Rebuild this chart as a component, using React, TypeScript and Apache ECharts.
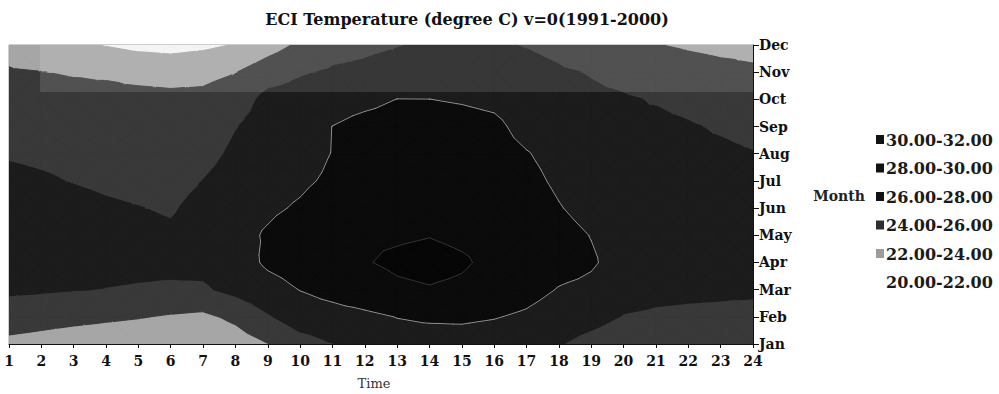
import React, { useEffect, useRef } from "react";
import * as echarts from "echarts";

// ---- axis categories ----
const HOURS = [1, 2, 3, 4, 5, 6, 7, 8, 9, 10, 11, 12, 13, 14, 15, 16, 17, 18, 19, 20, 21, 22, 23, 24];
const MONTHS = ["Jan", "Feb", "Mar", "Apr", "May", "Jun", "Jul", "Aug", "Sep", "Oct", "Nov", "Dec"];

// ---- contour bands ----
const LEVELS = [20, 22, 24, 26, 28, 30, 32];
const BAND_LABELS = ["20.00-22.00", "22.00-24.00", "24.00-26.00", "26.00-28.00", "28.00-30.00", "30.00-32.00"];
const BAND_COLORS = ["#f3f3f3", "#a6a6a6", "#393939", "#1c1c1c", "#0b0b0b", "#060606"];
const SWATCH_COLORS = ["", "#9c9c9c", "#2e2e2e", "#121212", "#121212", "#121212"];

// ---- temperature (degree C) per month, hours 1..24 ----
const tJan = [23.5, 23.3, 23.0, 22.8, 22.6, 22.4, 22.4, 23.0, 23.95, 25.2, 25.95, 26.6, 27.2, 27.2, 27.2, 27.0, 26.6, 26.1, 25.4, 24.8, 24.5, 24.4, 24.3, 24.2];
const tFeb = [25.0, 24.7, 24.5, 24.3, 24.1, 23.8, 23.6, 24.4, 25.8, 27.0, 27.3, 27.6, 28.05, 28.25, 28.3, 28.1, 27.7, 27.0, 26.6, 25.9, 25.7, 25.6, 25.5, 25.3];
const tMar = [26.3, 26.2, 26.05, 25.95, 25.85, 25.75, 25.75, 26.5, 27.3, 28.05, 28.6, 29.2, 29.7, 29.9, 29.7, 29.2, 28.7, 27.9, 27.6, 26.8, 26.5, 26.4, 26.35, 26.35];
const tApr = [26.9, 26.9, 26.8, 26.5, 26.4, 26.4, 26.5, 27.1, 28.3, 28.8, 29.2, 29.9, 30.3, 30.5, 30.2, 29.6, 29.2, 28.7, 28.2, 27.3, 27.0, 26.8, 26.6, 26.5];
const tMay = [27.2, 27.3, 27.0, 26.7, 26.5, 26.3, 26.8, 27.4, 28.2, 28.9, 29.3, 29.8, 29.8, 29.95, 29.7, 29.5, 29.2, 28.6, 27.95, 27.3, 27.1, 26.9, 26.7, 26.6];
const tJun = [27.0, 27.1, 26.7, 26.3, 26.05, 25.8, 26.6, 27.3, 27.7, 28.2, 28.9, 29.4, 29.7, 29.8, 29.5, 29.3, 28.9, 28.1, 27.4, 27.1, 26.9, 26.7, 26.6, 26.5];
const tJul = [26.5, 26.25, 25.9, 25.6, 25.4, 25.3, 26.03, 26.9, 27.3, 27.7, 28.3, 29.0, 29.5, 29.6, 29.3, 29.0, 28.5, 27.7, 27.0, 26.8, 26.7, 26.5, 26.4, 26.3];
const tAug = [25.8, 25.6, 25.4, 25.2, 25.0, 25.0, 25.3, 26.4, 27.2, 27.3, 28.05, 28.7, 29.2, 29.3, 29.0, 28.7, 28.1, 27.4, 26.7, 26.5, 26.4, 26.3, 26.25, 26.05];
const tSep = [25.2, 25.0, 24.9, 24.8, 24.7, 24.6, 24.8, 25.9, 26.9, 27.0, 28.02, 28.5, 28.7, 28.8, 28.65, 28.4, 27.4, 27.0, 26.4, 26.2, 26.3, 26.12, 25.85, 25.6];
const tOct = [24.6, 24.5, 24.4, 24.45, 24.5, 24.4, 24.4, 24.9, 26.6, 26.8, 27.3, 27.6, 28.02, 28.01, 27.85, 27.6, 27.0, 26.6, 26.3, 26.15, 25.9, 25.6, 25.2, 25.0];
const tNov = [24.1, 24.02, 23.9, 23.8, 23.5, 23.4, 23.55, 23.95, 25.0, 25.8, 26.2, 26.4, 26.8, 27.1, 27.0, 26.8, 26.6, 26.2, 25.9, 25.5, 25.0, 24.7, 24.45, 24.2];
const tDec = [23.6, 23.2, 22.4, 21.9, 21.5, 21.3, 21.6, 22.1, 23.2, 24.3, 25.3, 25.6, 25.9, 26.3, 26.4, 26.2, 25.9, 25.5, 24.7, 24.3, 24.05, 23.8, 23.6, 23.6];

const TEMPS = [tJan, tFeb, tMar, tApr, tMay, tJun, tJul, tAug, tSep, tOct, tNov, tDec];

type P3 = [number, number, number];

function clipPoly(poly: P3[], level: number, keepAbove: boolean): P3[] {
  const out: P3[] = [];
  for (let k = 0; k < poly.length; k++) {
    const a = poly[k];
    const b = poly[(k + 1) % poly.length];
    const ina = keepAbove ? a[2] >= level : a[2] <= level;
    const inb = keepAbove ? b[2] >= level : b[2] <= level;
    if (ina) out.push(a);
    if (ina !== inb) {
      const t = (level - a[2]) / (b[2] - a[2]);
      out.push([a[0] + t * (b[0] - a[0]), a[1] + t * (b[1] - a[1]), level]);
    }
  }
  return out;
}

function cellTriangles(h: number, m: number): P3[][] {
  const i = h - 1;
  const v00 = TEMPS[m][i];
  const v10 = TEMPS[m][i + 1];
  const v11 = TEMPS[m + 1][i + 1];
  const v01 = TEMPS[m + 1][i];
  const c: P3 = [h + 0.5, m + 0.5, (v00 + v10 + v11 + v01) / 4];
  const p0: P3 = [h, m, v00];
  const p1: P3 = [h + 1, m, v10];
  const p2: P3 = [h + 1, m + 1, v11];
  const p3: P3 = [h, m + 1, v01];
  return [
    [p0, p1, c],
    [p1, p2, c],
    [p2, p3, c],
    [p3, p0, c],
  ];
}

const CELLS: number[][] = [];
for (let m = 0; m < MONTHS.length - 1; m++) {
  for (let k = 0; k < HOURS.length - 1; k++) {
    CELLS.push([HOURS[k], m]);
  }
}

const SERIF = "'DejaVu Serif', 'Liberation Serif', serif";

export default function App() {
  const ref = useRef<HTMLDivElement>(null);

  useEffect(() => {
    if (!ref.current) return;
    const chart = echarts.init(ref.current, undefined, { renderer: "svg" });

    const renderFill = (params: any, api: any) => {
      const h = api.value(0);
      const m = api.value(1);
      const children: any[] = [];
      for (const tri of cellTriangles(h, m)) {
        for (let b = 0; b < LEVELS.length - 1; b++) {
          let poly = clipPoly(tri, LEVELS[b], true);
          if (poly.length < 3) continue;
          poly = clipPoly(poly, LEVELS[b + 1], false);
          if (poly.length < 3) continue;
          const points = poly.map((p) => api.coord([p[0], p[1]]));
          children.push({
            type: "polygon",
            shape: { points },
            style: { fill: BAND_COLORS[b], stroke: BAND_COLORS[b], lineWidth: 1.2, lineJoin: "round" },
          });
        }
      }
      return { type: "group", children };
    };

    const LINE_LEVELS = [28, 30];
    const LINE_COLORS = ["#8f8f8f", "#333333"];
    const renderLines = (params: any, api: any) => {
      const h = api.value(0);
      const m = api.value(1);
      const children: any[] = [];
      for (const tri of cellTriangles(h, m)) {
        LINE_LEVELS.forEach((L, li) => {
          const pts: number[][] = [];
          for (let k = 0; k < 3; k++) {
            const a = tri[k];
            const b = tri[(k + 1) % 3];
            if ((a[2] - L) * (b[2] - L) < 0) {
              const t = (L - a[2]) / (b[2] - a[2]);
              pts.push(api.coord([a[0] + t * (b[0] - a[0]), a[1] + t * (b[1] - a[1])]));
            }
          }
          if (pts.length === 2) {
            children.push({
              type: "line",
              shape: { x1: pts[0][0], y1: pts[0][1], x2: pts[1][0], y2: pts[1][1] },
              style: { stroke: LINE_COLORS[li], lineWidth: 1, lineCap: "round" },
            });
          }
        });
      }
      return { type: "group", children };
    };

    const legendGraphics: any[] = [];
    const legendTop = 140;
    const legendStep = 28.5;
    for (let r = 0; r < BAND_LABELS.length; r++) {
      const b = BAND_LABELS.length - 1 - r;
      const y = legendTop + r * legendStep;
      if (SWATCH_COLORS[b]) {
        legendGraphics.push({
          type: "rect",
          shape: { x: 876, y: y - 5, width: 8, height: 9 },
          style: { fill: SWATCH_COLORS[b] },
        });
      }
      legendGraphics.push({
        type: "text",
        x: 886,
        y,
        style: {
          text: BAND_LABELS[b],
          font: `bold 16px ${SERIF}`,
          fill: "#1a1a1a",
          textAlign: "left",
          textVerticalAlign: "middle",
        },
      });
    }

    chart.setOption({
      animation: false,
      backgroundColor: "#ffffff",
      grid: {
        left: 9,
        right: 246,
        top: 45,
        bottom: 50,
        show: true,
        borderColor: "#9a9a9a",
        borderWidth: 1,
        backgroundColor: "#1c1c1c",
      },
      xAxis: {
        type: "value",
        min: 1,
        max: 24,
        interval: 1,
        position: "bottom",
        splitLine: { show: false },
        axisLine: { show: true, lineStyle: { color: "#111", width: 1 } },
        axisTick: { show: true, length: 4, inside: false, lineStyle: { color: "#111" } },
        axisLabel: {
          fontFamily: SERIF,
          fontWeight: "bold",
          fontSize: 14,
          color: "#111",
          margin: 10,
          formatter: (v: number) => String(v),
        },
      },
      yAxis: {
        type: "value",
        min: 0,
        max: 11,
        interval: 1,
        position: "right",
        splitLine: { show: false },
        axisLine: { show: true, lineStyle: { color: "#111", width: 1 } },
        axisTick: { show: true, length: 6, lineStyle: { color: "#111" } },
        axisLabel: {
          fontFamily: SERIF,
          fontWeight: "bold",
          fontSize: 14,
          color: "#111",
          margin: 6,
          formatter: (v: number) => MONTHS[v] ?? "",
        },
      },
      series: [
        {
          type: "custom",
          name: "fill",
          silent: true,
          clip: true,
          renderItem: renderFill,
          encode: { x: 0, y: 1 },
          data: CELLS,
          z: 1,
        },
        {
          type: "custom",
          name: "lines",
          silent: true,
          clip: true,
          renderItem: renderLines,
          encode: { x: 0, y: 1 },
          data: CELLS,
          z: 2,
        },
      ],
      graphic: [
        {
          type: "rect",
          silent: true,
          z: 50,
          shape: { x: 40, y: 45, width: 713, height: 47 },
          style: { fill: "rgba(255,255,255,0.12)" },
        },
        {
          type: "text",
          x: 467,
          y: 19,
          style: {
            text: "ECI Temperature (degree C) v=0(1991-2000)",
            font: `bold 16px ${SERIF}`,
            fill: "#111",
            textAlign: "center",
            textVerticalAlign: "middle",
          },
        },
        {
          type: "text",
          x: 374,
          y: 383,
          style: {
            text: "Time",
            font: `13px ${SERIF}`,
            fill: "#333",
            textAlign: "center",
            textVerticalAlign: "middle",
          },
        },
        {
          type: "text",
          x: 839,
          y: 196,
          style: {
            text: "Month",
            font: `bold 14px ${SERIF}`,
            fill: "#222",
            textAlign: "center",
            textVerticalAlign: "middle",
          },
        },
        ...legendGraphics,
      ],
    });

    return () => chart.dispose();
  }, []);

  return (
    <div
      ref={ref}
      style={{ position: "fixed", left: 0, top: 0, width: 999, height: 394, background: "#fff" }}
    />
  );
}
